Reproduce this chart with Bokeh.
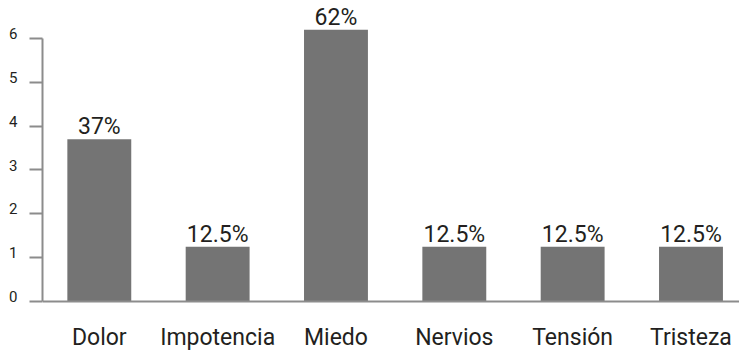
from bokeh.plotting import figure
from bokeh.models import ColumnDataSource, Range1d, FixedTicker, LinearAxis
from bokeh.core.properties import value
from bokeh.embed import file_html
from bokeh.resources import INLINE

# Emotions reported and share of respondents
categories = ["Dolor", "Impotencia", "Miedo", "Nervios", "Tensión", "Tristeza"]
percentages = [37, 12.5, 62, 12.5, 12.5, 12.5]
pct_labels = ["37%", "12.5%", "62%", "12.5%", "12.5%", "12.5%"]
y_ticks = [0, 1, 2, 3, 4, 5, 6]

positions = list(range(len(categories)))
heights = [v / 10 for v in percentages]  # axis runs 0-6 (tens of percent)

source = ColumnDataSource(dict(x=positions, top=heights, label=pct_labels,
                               cat=categories, base=[0] * len(categories)))

FONT = "Roboto"
TEXT_COLOR = "#231f20"
AXIS_COLOR = "#8c8c8c"
BAR_COLOR = "#747474"

Y_START, Y_END = -1.118, 6.867
LABEL_SHIFT = 0.114  # tick numbers sit a little above their tick marks

p = figure(
    width=739, height=350,
    x_range=Range1d(-0.48, 5.41),
    y_range=Range1d(Y_START, Y_END),
    output_backend="svg", toolbar_location=None,
    min_border_left=42, min_border_right=0,
    min_border_top=0, min_border_bottom=0,
)
p.outline_line_color = None
p.xgrid.visible = False
p.ygrid.visible = False
p.background_fill_color = "white"
p.extra_y_ranges = {"ticklabels": Range1d(Y_START - LABEL_SHIFT, Y_END - LABEL_SHIFT)}

p.vbar(x="x", top="top", bottom=0, width=0.54, source=source,
       fill_color=BAR_COLOR, line_color=None)

# value labels above the bars
p.text(x="x", y="top", text="label", source=source,
       text_align="center", text_baseline="bottom", y_offset=1,
       text_font=value(FONT), text_font_size="23px", text_color=TEXT_COLOR)

# category names under the baseline
p.text(x="x", y="base", text="cat", source=source,
       text_align="center", text_baseline="middle", y_offset=36,
       text_font=value(FONT), text_font_size="23px", text_color=TEXT_COLOR)

# Y axis: line and ticks 0-6 (labels come from the outer axis)
ya = p.yaxis[0]
ya.ticker = FixedTicker(ticks=y_ticks)
ya.bounds = (0, 6)
ya.axis_line_color = AXIS_COLOR
ya.axis_line_width = 2
ya.major_tick_line_color = AXIS_COLOR
ya.major_tick_line_width = 2
ya.major_tick_out = 13
ya.major_tick_in = 0
ya.minor_tick_line_color = None
ya.major_label_overrides = {t: "" for t in y_ticks}
ya.major_label_standoff = 0

label_axis = LinearAxis(y_range_name="ticklabels",
                        ticker=FixedTicker(ticks=y_ticks),
                        axis_line_color=None,
                        major_tick_line_color=None,
                        minor_tick_line_color=None,
                        major_tick_out=0, major_tick_in=0,
                        major_label_standoff=12,
                        major_label_text_font=FONT,
                        major_label_text_font_size="15px",
                        major_label_text_color=TEXT_COLOR)
p.add_layout(label_axis, "left")

# X axis: plain baseline drawn at y = 0
xa = p.xaxis[0]
xa.ticker = FixedTicker(ticks=[])
xa.fixed_location = 0
xa.axis_line_color = AXIS_COLOR
xa.axis_line_width = 2
xa.major_tick_line_color = None
xa.minor_tick_line_color = None
xa.major_tick_out = 0
xa.major_tick_in = 0
xa.major_label_standoff = 0

open("out.html", "w").write(file_html(p, INLINE))
